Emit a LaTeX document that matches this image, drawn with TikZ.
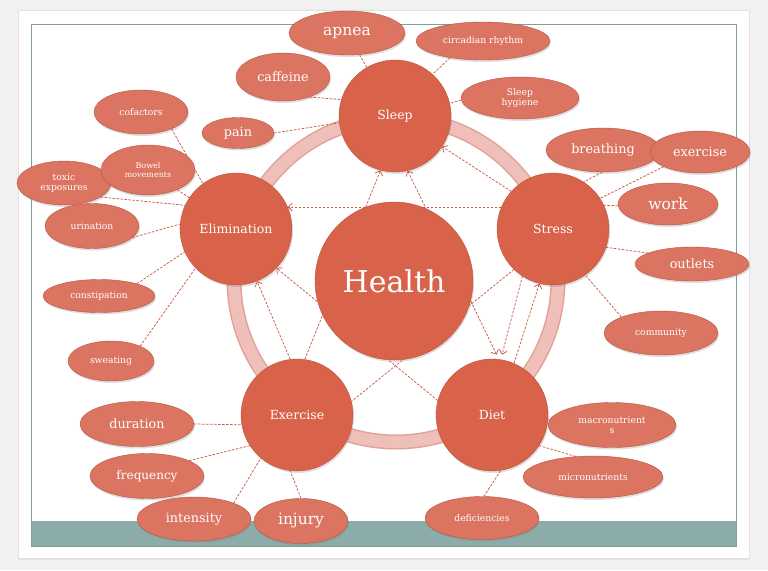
\documentclass[tikz,border=0pt]{standalone}
\usepackage{fontspec}
\setmainfont{DejaVu Serif}
\usetikzlibrary{positioning, arrows.meta, shapes.geometric, shadows}
\definecolor{hubfill}{HTML}{D8634A}
\definecolor{hubedge}{HTML}{BE533D}
\definecolor{leaffill}{HTML}{DB7461}
\definecolor{leafedge}{HTML}{B75440}
\definecolor{wirec}{HTML}{CC5A46}
\definecolor{ringfill}{HTML}{EFC0BA}
\definecolor{ringedge}{HTML}{E2A29B}
\definecolor{pagebg}{HTML}{F1F1F1}
\definecolor{framec}{HTML}{7E9E9B}
\definecolor{bandc}{HTML}{8CACA9}
\newcommand\szhealth{\fontsize{30}{32}\selectfont}
\newcommand\szhub{\fontsize{12.5}{14}\selectfont}
\newcommand\szbig{\fontsize{15.5}{17}\selectfont}
\newcommand\szmid{\fontsize{12.8}{14}\selectfont}
\newcommand\szsmall{\fontsize{9.2}{10.5}\selectfont}
\newcommand\sztiny{\fontsize{8}{8.5}\selectfont}
\pgfdeclarelayer{back}
\pgfdeclarelayer{wires}
\pgfsetlayers{back,wires,main}
\tikzstyle{hub}=[circle, draw=hubedge, fill=hubfill, text=white, inner sep=0pt,
                 minimum size=112pt, font=\szhub,
                 drop shadow={opacity=0.25, shadow xshift=1pt, shadow yshift=-2pt}]
\tikzstyle{core}=[hub, minimum size=158pt, font=\szhealth]
\tikzstyle{leaf}=[ellipse, draw=leafedge, fill=leaffill, text=white, inner sep=0pt,
                  align=center, font=\szsmall,
                  drop shadow={opacity=0.25, shadow xshift=1pt, shadow yshift=-2pt}]
\tikzstyle{link}=[draw=wirec, line width=0.75pt, dash pattern=on 2.5pt off 1.5pt]
\tikzstyle{ar}=[link, -{Straight Barb[length=4pt, width=8pt]}]
\tikzstyle{ar2}=[link, {Straight Barb[length=4pt, width=8pt]}-{Straight Barb[length=4pt, width=8pt]}]

\begin{document}
\begin{tikzpicture}[x=1pt, y=-1pt]
    \useasboundingbox (0,0) rectangle (768,570);
    % slide
    \begin{pgfonlayer}{back}
      \fill[pagebg] (0,0) rectangle (768,570);
      \fill[white, drop shadow={opacity=0.12, shadow xshift=0pt, shadow yshift=-2pt}] (18,10) rectangle (749,558);
      \draw[black!12] (18,10) rectangle (749,558);
      \fill[bandc] (31,521) rectangle (736,546);
      \draw[framec, line width=0.8pt] (31,24) rectangle (736,546);
      \draw[ringedge, line width=15pt] (396,280) circle[radius=162pt];
      \draw[ringfill, line width=12pt] (396,280) circle[radius=162pt];
    \end{pgfonlayer}
    % hubs
    \node[core] (health) at (394,281) {Health};
    \node[hub] (sleep)  at (395,116) {Sleep};
    \node[hub] (stress) at (553,229) {Stress};
    \node[hub] (elim)   at (236,229) {Elimination};
    \node[hub] (exer)   at (297,415) {Exercise};
    \node[hub] (diet)   at (492,415) {Diet};
    % sleep leaves
    \node[leaf, minimum width=116pt, minimum height=44pt, font=\szbig] (apnea) at (347,33) {apnea};
    \node[leaf, minimum width=134pt, minimum height=38pt] (circ) at (483,41) {circadian rhythm};
    \node[leaf, minimum width=94pt, minimum height=48pt, font=\szmid] (caffeine) at (283,77) {caffeine};
    \node[leaf, minimum width=118pt, minimum height=42pt] (hygiene) at (520,98) {Sleep\\hygiene};
    \node[leaf, minimum width=72pt, minimum height=31pt, font=\szmid] (pain) at (238,133) {pain};
    % elimination leaves
    \node[leaf, minimum width=94pt, minimum height=44pt] (cofactors) at (141,112) {cofactors};
    \node[leaf, minimum width=94pt, minimum height=44pt] (toxic) at (64,183) {toxic\\exposures};
    \node[leaf, minimum width=94pt, minimum height=50pt, font=\sztiny] (bowel) at (148,170) {Bowel\\movements};
    \node[leaf, minimum width=94pt, minimum height=45pt] (urination) at (92,226) {urination};
    \node[leaf, minimum width=112pt, minimum height=33pt] (constip) at (99,296) {constipation};
    \node[leaf, minimum width=86pt, minimum height=40pt] (sweating) at (111,361) {sweating};
    % stress leaves
    \node[leaf, minimum width=114pt, minimum height=44pt, font=\szmid] (breathing) at (603,150) {breathing};
    \node[leaf, minimum width=100pt, minimum height=42pt, font=\szmid] (exer2) at (700,152) {exercise};
    \node[leaf, minimum width=100pt, minimum height=42pt, font=\szbig] (work) at (668,204) {work};
    \node[leaf, minimum width=114pt, minimum height=34pt, font=\szmid] (outlets) at (692,264) {outlets};
    \node[leaf, minimum width=114pt, minimum height=44pt] (community) at (661,333) {community};
    % exercise leaves
    \node[leaf, minimum width=114pt, minimum height=45pt, font=\szmid] (duration) at (137,424) {duration};
    \node[leaf, minimum width=114pt, minimum height=45pt, font=\fontsize{12}{13}\selectfont] (frequency) at (147,476) {frequency};
    \node[leaf, minimum width=114pt, minimum height=44pt, font=\szmid] (intensity) at (194,519) {intensity};
    \node[leaf, minimum width=94pt, minimum height=45pt, font=\szbig] (injury) at (301,521) {injury};
    % diet leaves
    \node[leaf, minimum width=128pt, minimum height=45pt] (macro) at (612,425) {macronutrient\\s};
    \node[leaf, minimum width=140pt, minimum height=42pt] (micro) at (593,477) {micronutrients};
    \node[leaf, minimum width=114pt, minimum height=43pt] (defic) at (482,518) {deficiencies};
    \begin{pgfonlayer}{wires}
      % between hubs
      \draw[ar] (stress.157) -- (elim.23);
      \draw[ar] (stress.138) -- (sleep.-33);
      \draw[ar] (exer.82) -- (sleep.-105);
      \draw[ar2, shorten >=5pt] (sleep.-77) -- (diet.83);
      \draw[ar] (diet.165) -- (elim.-44);
      \draw[ar] (exer.97) -- (elim.-68);
      \draw[link] (stress.226) -- (exer.14);
      \draw[ar, shorten >=5pt] (stress.237) -- (diet.81);
      \draw[ar] (diet.67) -- (stress.256);
      % to leaves
      \draw[link] (apnea) -- (sleep);
      \draw[link] (circ.207) -- (sleep.48);
      \draw[link] (caffeine.-37) -- (sleep.163);
      \draw[link] (hygiene.182) -- (sleep.13);
      \draw[link] (pain.0) -- (sleep.187);
      \draw[link] (cofactors.-29) -- (elim.126);
      \draw[link] (bowel) -- (elim);
      \draw[link] (toxic.-21) -- (elim.155);
      \draw[link] (urination.-16) -- (elim.175);
      \draw[link] (constip.18) -- (elim.204);
      \draw[link] (sweating.27) -- (elim.224);
      \draw[link] (breathing.268) -- (stress.57);
      \draw[link] (exer2.202) -- (stress.33);
      \draw[link] (work.182) -- (stress.25);
      \draw[link] (outlets.166) -- (stress.-19);
      \draw[link] (community.158) -- (stress.-55);
      \draw[link] (duration.0) -- (exer.190);
      \draw[link] (frequency.20) -- (exer.213);
      \draw[link] (intensity.22) -- (exer.230);
      \draw[link] (injury.90) -- (exer.263);
      \draw[link] (macro) -- (diet);
      \draw[link] (micro.130) -- (diet.-33);
      \draw[link] (defic.85) -- (diet.-81);
    \end{pgfonlayer}
\end{tikzpicture}
\end{document}
